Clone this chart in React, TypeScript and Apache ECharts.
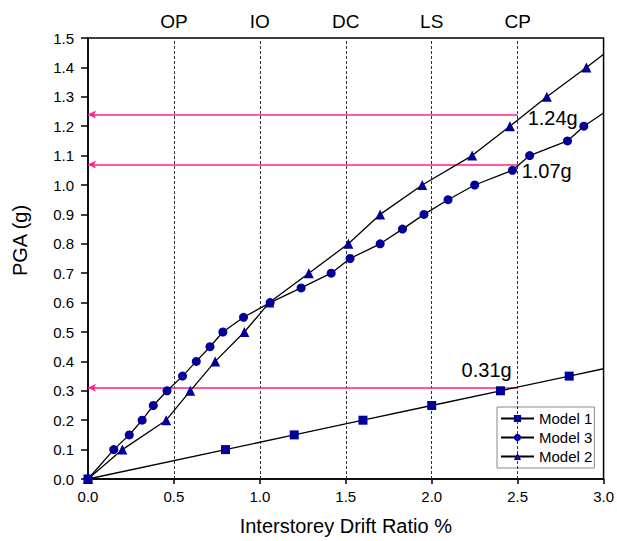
import React, { useEffect, useRef } from "react";
import * as echarts from "echarts";

const model1: [number, number][] = [
  [0, 0], [0.8, 0.1], [1.2, 0.15], [1.6, 0.2], [2.0, 0.25], [2.4, 0.3], [2.8, 0.35],
];
const model1End: [number, number] = [3.0, 0.375];

const model3: [number, number][] = [
  [0, 0], [0.15, 0.1], [0.24, 0.15], [0.315, 0.2], [0.38, 0.25], [0.46, 0.3], [0.55, 0.35],
  [0.63, 0.4], [0.71, 0.45], [0.785, 0.5], [0.905, 0.55], [1.06, 0.6], [1.24, 0.65],
  [1.415, 0.7], [1.525, 0.75], [1.7, 0.8], [1.83, 0.85], [1.955, 0.9], [2.095, 0.95],
  [2.25, 1.0], [2.47, 1.05], [2.57, 1.1], [2.79, 1.15], [2.885, 1.2],
];
const model3End: [number, number] = [3.0, 1.245];

const model2: [number, number][] = [
  [0, 0], [0.2, 0.1], [0.455, 0.2], [0.595, 0.3], [0.74, 0.4], [0.91, 0.5], [1.055, 0.6],
  [1.285, 0.7], [1.515, 0.8], [1.7, 0.9], [1.945, 1.0], [2.235, 1.1], [2.455, 1.2],
  [2.67, 1.3], [2.9, 1.4],
];
const model2End: [number, number] = [3.0, 1.445];

const limitX = [0.5, 1.0, 1.5, 2.0, 2.5];
const limitNames = ["OP", "IO", "DC", "LS", "CP"];

const pgaLevels = [1.24, 1.07, 0.31];
const pgaLabels = ["1.24g", "1.07g", "0.31g"];
const pgaAtDrift = 2.5;

const seriesNames = ["Model 1", "Model 3", "Model 2"];

const FONT = "Liberation Sans";
const NAVY = "#000099";
const PINK = "#ff2289";

export default function App() {
  const ref = useRef<HTMLDivElement>(null);

  useEffect(() => {
    if (!ref.current) return;
    const chart = echarts.init(ref.current, undefined, { renderer: "svg" });

    const lineBase = {
      type: "line" as const,
      symbolSize: 9,
      itemStyle: { color: NAVY },
      lineStyle: { color: "#000", width: 1.3 },
      z: 5,
    };

    const pgaLabelStyle = [
      { position: "right", distance: 10, offset: [0, 4] },
      { position: "right", distance: 4, offset: [0, 7] },
      { position: "left", distance: 6, offset: [0, -18] },
    ];

    chart.setOption({
      animation: false,
      backgroundColor: "#fff",
      textStyle: { fontFamily: FONT },
      grid: {
        left: 88, right: 12, top: 38, bottom: 62,
        show: true, borderColor: "#000", borderWidth: 1.5,
      },
      legend: {
        data: seriesNames,
        orient: "vertical",
        left: 497, top: 407,
        itemWidth: 33, itemHeight: 9, itemGap: 4,
        padding: [4, 2, 4, 3],
        borderColor: "#888", borderWidth: 1, backgroundColor: "#fff",
        textStyle: { fontFamily: FONT, fontSize: 15, color: "#000" },
      },
      xAxis: {
        type: "value", min: 0, max: 3, interval: 0.5,
        name: "Interstorey Drift Ratio %", nameLocation: "middle", nameGap: 37,
        nameTextStyle: { fontFamily: FONT, fontSize: 20, color: "#000" },
        axisLine: { show: true, lineStyle: { color: "#000", width: 1.5 } },
        axisTick: { show: true, length: 5, lineStyle: { color: "#000", width: 1.5 } },
        axisLabel: { fontFamily: FONT, fontSize: 15, color: "#000", margin: 10,
          formatter: (v: number) => v.toFixed(1) },
        splitLine: { show: false },
      },
      yAxis: {
        type: "value", min: 0, max: 1.5, interval: 0.1,
        name: "PGA (g)", nameLocation: "middle", nameGap: 58,
        nameTextStyle: { fontFamily: FONT, fontSize: 20, color: "#000", padding: [0, 0, 0, 36] },
        axisLine: { show: true, lineStyle: { color: "#000", width: 1.5 } },
        axisTick: { show: true, length: 7, lineStyle: { color: "#000", width: 1.5 } },
        axisLabel: { fontFamily: FONT, fontSize: 15, color: "#000", margin: 14,
          formatter: (v: number) => v.toFixed(1) },
        splitLine: { show: false },
      },
      series: [
        {
          ...lineBase,
          name: "Model 1",
          symbol: "rect",
          data: [...model1, { value: model1End, symbol: "none" }],
        },
        {
          ...lineBase,
          name: "Model 3",
          symbol: "circle",
          data: [...model3, { value: model3End, symbol: "none" }],
        },
        {
          ...lineBase,
          name: "Model 2",
          symbol: "triangle",
          symbolSize: 10,
          data: [...model2, { value: model2End, symbol: "none" }],
        },
        {
          type: "scatter",
          name: "limits",
          symbolSize: 0,
          data: [],
          z: 2,
          markLine: {
            silent: true,
            symbol: ["none", "none"],
            lineStyle: { color: "#333", type: [3, 2], width: 1 },
            label: {
              show: true, position: "end", distance: 7,
              fontFamily: FONT, fontSize: 19, color: "#000",
              formatter: (p: any) => p.name,
            },
            data: limitX.map((x, i) => ({ xAxis: x, name: limitNames[i] })),
          },
        },
        {
          type: "scatter",
          name: "pga",
          symbolSize: 0,
          z: 3,
          itemStyle: { opacity: 1 },
          data: pgaLevels.map((y, i) => ({
            value: [pgaAtDrift, y],
            label: {
              show: true,
              ...pgaLabelStyle[i],
              fontFamily: FONT, fontSize: 20, color: "#000", opacity: 1,
              formatter: () => pgaLabels[i],
            },
          })),
          markLine: {
            silent: true,
            symbol: ["arrow", "none"],
            symbolSize: [6, 8],
            lineStyle: { color: PINK, type: "solid", width: 1.5, opacity: 1 },
            itemStyle: { color: PINK },
            label: { show: false },
            data: pgaLevels.map((y) => [
              { coord: [0, y] },
              { coord: [pgaAtDrift, y] },
            ]),
          },
        },
      ],
    });

    return () => chart.dispose();
  }, []);

  return (
    <div
      ref={ref}
      style={{ position: "fixed", left: 0, top: 0, width: 617, height: 541 }}
    />
  );
}
